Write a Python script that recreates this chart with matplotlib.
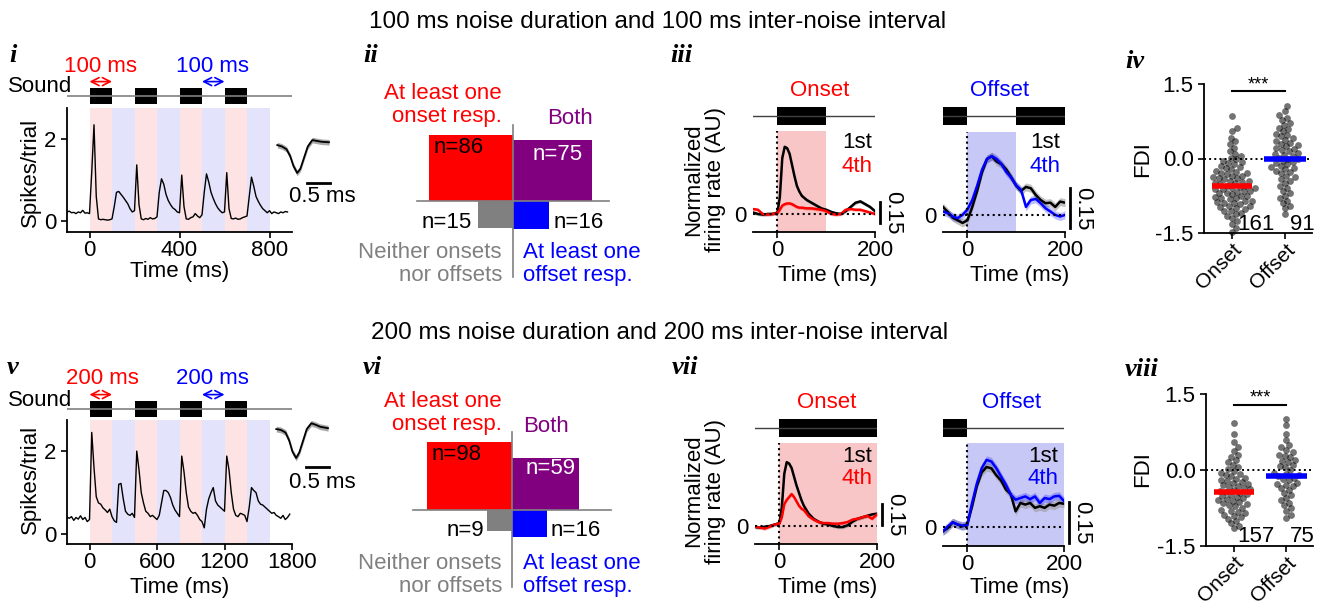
import numpy as np
import matplotlib.pyplot as plt
import matplotlib.transforms as mtransforms

plt.rcParams['font.family'] = ['Liberation Sans', 'DejaVu Sans']
plt.rcParams['font.size'] = 16
plt.rcParams['axes.unicode_minus'] = False
plt.rcParams['axes.linewidth'] = 1.3

RED = '#ff0000'
BLUE = '#0000ff'
PURPLE = '#800080'
GRAY = '#808080'
PINK_L = '#fde3e3'
LAV_L = '#e3e3fb'
PINK = '#f8c6c6'
LAV = '#c8c8f6'

# ---------------- data ----------------
# i : PSTH, 100 ms noise / 100 ms gap (10 ms bins)
t_i = np.arange(-100, 881, 10)
rate_i = [0.22, 0.24, 0.20, 0.21, 0.18, 0.22, 0.20, 0.26, 0.19, 0.20,
          0.18, 1.20, 2.35, 0.60, 0.05, 0.03, 0.04, 0.03, 0.02, 0.03,
          0.05, 0.35, 0.70, 0.72, 0.65, 0.58, 0.50, 0.42, 0.30, 0.22,
          0.25, 1.37, 0.40, 0.05, 0.03, 0.06, 0.04, 0.08, 0.05, 0.06,
          0.10, 0.70, 1.03, 0.90, 0.65, 0.50, 0.40, 0.32, 0.28, 0.22,
          0.20, 1.12, 0.35, 0.05, 0.04, 0.08, 0.10, 0.18, 0.12, 0.08,
          0.15, 0.70, 1.15, 0.95, 0.70, 0.55, 0.42, 0.32, 0.25, 0.20,
          0.22, 1.18, 0.30, 0.06, 0.05, 0.07, 0.04, 0.05, 0.08, 0.10,
          0.12, 0.60, 1.07, 0.85, 0.60, 0.48, 0.38, 0.30, 0.25, 0.20,
          0.25, 0.18, 0.22, 0.20, 0.18, 0.22, 0.20, 0.23, 0.22]
# v : PSTH, 200 ms noise / 200 ms gap (20 ms bins)
t_v = np.arange(-200, 1781, 20)
rate_v = [0.41, 0.38, 0.42, 0.33, 0.40, 0.36, 0.44, 0.35, 0.40, 0.30,
          0.35, 2.45, 1.60, 0.90, 0.75, 0.72, 0.63, 0.58, 0.52, 0.60,
          0.42, 0.32, 0.28, 1.20, 1.22, 0.85, 0.55, 0.48, 0.45, 0.50,
          0.40, 2.00, 1.55, 1.00, 0.75, 0.55, 0.50, 0.42, 0.45, 0.40,
          0.35, 0.45, 0.75, 1.05, 1.05, 1.00, 0.88, 0.70, 0.58, 0.50,
          0.42, 1.88, 1.50, 1.00, 0.65, 0.55, 0.50, 0.52, 0.45, 0.35,
          0.30, 0.15, 0.60, 0.85, 1.00, 1.12, 0.80, 0.70, 0.65, 0.60,
          0.55, 1.88, 1.55, 1.00, 0.60, 0.45, 0.42, 0.50, 0.48, 0.45,
          0.30, 0.65, 1.12, 1.05, 1.00, 0.80, 0.72, 0.70, 0.65, 0.60,
          0.55, 0.50, 0.52, 0.45, 0.42, 0.38, 0.45, 0.35, 0.40, 0.48]
# spike waveforms (ms, normalized amplitude)
wave_t = [0, 0.1, 0.2, 0.28, 0.35, 0.43, 0.5, 0.58, 0.66, 0.76, 0.85, 0.95, 1.12]
wave_i = [0.0, -0.05, -0.15, -0.4, -0.75, -1.0, -0.85, -0.45, -0.05, 0.18, 0.15, 0.12, 0.10]
wave_v = [0.0, -0.03, -0.12, -0.4, -0.78, -1.0, -0.8, -0.4, 0.0, 0.2, 0.15, 0.08, 0.03]

# ii / vi : [onset only, both, neither, offset only]
counts_ii = [86, 75, 15, 16]
counts_vi = [98, 59, 9, 16]

# iii / vii : normalized firing rate, 1st vs 4th noise
t_on = [-50, -40, -30, -20, -10, 0, 5, 10, 15, 20, 25, 30, 35, 40, 45, 50,
        60, 70, 80, 90, 100, 110, 120, 130, 140, 150, 160, 170, 180, 190, 200]
t_off = np.arange(-50, 201, 10)
on1_iii = [0.01, 0.0, -0.005, 0.0, 0.0, 0.01, 0.12, 0.40, 0.48, 0.47, 0.43, 0.35, 0.27, 0.20,
           0.16, 0.13, 0.10, 0.08, 0.06, 0.04, 0.03, 0.015, 0.005, 0.0, 0.02, 0.05, 0.08,
           0.09, 0.07, 0.05, 0.02]
on4_iii = [0.035, 0.03, 0.0, -0.005, 0.0, 0.005, 0.03, 0.06, 0.07, 0.075, 0.075, 0.07, 0.06,
           0.05, 0.045, 0.045, 0.04, 0.04, 0.035, 0.03, 0.02, 0.0, -0.005, 0.0, 0.03, 0.035,
           0.03, 0.03, 0.02, 0.01, 0.0]
off1_iii = [0.03, 0.01, -0.01, -0.02, -0.03, -0.02, 0.03, 0.09, 0.16, 0.21, 0.22, 0.20, 0.19,
            0.17, 0.14, 0.11, 0.09, 0.105, 0.10, 0.075, 0.056, 0.044, 0.046, 0.03, 0.05, 0.046]
off4_iii = [0.013, 0.006, -0.006, -0.012, 0.0, 0.02, 0.056, 0.11, 0.17, 0.21, 0.22, 0.21, 0.19,
            0.16, 0.14, 0.11, 0.094, 0.03, 0.056, 0.06, 0.044, 0.025, 0.013, 0.0, -0.006, 0.0]
on1_vii = [-0.007, -0.01, -0.005, 0.0, 0.01, 0.02, 0.13, 0.36, 0.44, 0.43, 0.40, 0.34, 0.28,
           0.23, 0.18, 0.14, 0.085, 0.05, 0.03, 0.016, 0.01, 0.0, -0.007, -0.007, 0.005, 0.03,
           0.05, 0.06, 0.07, 0.08, 0.085]
on4_vii = [-0.005, -0.01, -0.018, -0.005, 0.01, 0.016, 0.06, 0.15, 0.18, 0.20, 0.22, 0.20, 0.17,
           0.14, 0.12, 0.11, 0.067, 0.044, 0.028, 0.02, 0.02, 0.016, 0.016, 0.02, 0.028, 0.044,
           0.05, 0.06, 0.07, 0.05, 0.08]
off1_vii = [-0.016, -0.004, 0.017, 0.009, 0.002, 0.01, 0.075, 0.15, 0.20, 0.22, 0.215, 0.19, 0.17,
            0.137, 0.12, 0.057, 0.088, 0.082, 0.088, 0.07, 0.076, 0.07, 0.082, 0.078, 0.088, 0.085]
off4_vii = [-0.016, 0.002, 0.017, 0.009, 0.005, 0.005, 0.088, 0.16, 0.216, 0.246, 0.24, 0.216,
            0.185, 0.155, 0.118, 0.10, 0.106, 0.112, 0.102, 0.112, 0.088, 0.106, 0.102, 0.112,
            0.114, 0.095]

# iv / viii : FDI per unit
fdi_on_iv = [0.85, 0.62, 0.55, 0.42, 0.35, 0.3, 0.22, 0.15, 0.1, 0.05, 0.02, -0.02, -0.05, -0.08,
             -0.1, -0.12, -0.15, -0.18, -0.2, -0.22, -0.25, -0.27, -0.3, -0.3, -0.32, -0.35,
             -0.35, -0.38, -0.4, -0.4, -0.42, -0.45, -0.45, -0.47, -0.5, -0.5, -0.52, -0.55,
             -0.55, -0.57, -0.6, -0.6, -0.62, -0.62, -0.65, -0.65, -0.67, -0.7, -0.7, -0.72,
             -0.75, -0.75, -0.78, -0.8, -0.8, -0.82, -0.85, -0.85, -0.88, -0.9, -0.9, -0.92,
             -0.95, -0.95, -0.98, -1.0, -1.02, -1.05, -1.05, -1.1, -1.12, -1.15, -1.2, -1.25,
             -1.32, -1.4, -1.48]
fdi_off_iv = [1.05, 0.95, 0.88, 0.82, 0.78, 0.72, 0.68, 0.62, 0.6, 0.55, 0.5, 0.48, 0.45, 0.42,
              0.38, 0.35, 0.32, 0.3, 0.28, 0.25, 0.22, 0.2, 0.18, 0.15, 0.12, 0.1, 0.08, 0.05,
              0.02, 0.0, -0.02, -0.05, -0.08, -0.1, -0.12, -0.15, -0.18, -0.2, -0.22, -0.25,
              -0.28, -0.3, -0.35, -0.38, -0.42, -0.45, -0.5, -0.55, -0.6, -0.65, -0.7, -0.75,
              -0.8, -0.85, -0.9, -0.95, -1.0, -1.12]
fdi_on_viii = [0.92, 0.72, 0.55, 0.45, 0.38, 0.3, 0.25, 0.2, 0.15, 0.1, 0.05, 0.02, -0.02, -0.05,
               -0.08, -0.1, -0.12, -0.15, -0.17, -0.2, -0.22, -0.24, -0.26, -0.28, -0.3, -0.32,
               -0.34, -0.36, -0.38, -0.4, -0.42, -0.44, -0.45, -0.47, -0.5, -0.52, -0.54, -0.56,
               -0.58, -0.6, -0.62, -0.64, -0.66, -0.68, -0.7, -0.72, -0.75, -0.78, -0.8, -0.82,
               -0.85, -0.88, -0.9, -0.93, -0.96, -1.0, -1.05, -1.1, -1.15]
fdi_off_viii = [1.0, 0.88, 0.72, 0.6, 0.5, 0.45, 0.4, 0.35, 0.3, 0.28, 0.25, 0.2, 0.18, 0.15, 0.1,
                0.08, 0.05, 0.0, -0.05, -0.08, -0.1, -0.12, -0.15, -0.18, -0.2, -0.25, -0.28,
                -0.3, -0.32, -0.35, -0.4, -0.45, -0.5, -0.55, -0.6, -0.65, -0.7, -0.75, -0.8,
                -0.88, -0.95]
med_iv = [-0.55, 0.0]
med_viii = [-0.44, -0.12]
n_iv = [161, 91]
n_viii = [157, 75]

# ---------------- figure ----------------
W, H = 1322, 605
fig = plt.figure(figsize=(W / 100, H / 100), dpi=100)


def add_ax(x0, y0, x1, y1):
    # pixel box (top-left origin) -> figure axes
    return fig.add_axes([x0 / W, 1 - y1 / H, (x1 - x0) / W, (y1 - y0) / H])


def ftext(x, y, s, **kw):
    kw.setdefault('ha', 'center')
    kw.setdefault('va', 'center')
    return fig.text(x / W, 1 - y / H, s, **kw)


def plabel(x, y, s):
    ftext(x, y, s, family=['Liberation Serif', 'DejaVu Serif'], style='italic',
          weight='bold', fontsize=19)


def train_panel(box, snd_box, t, rate, dur, xlim, ylim, xticks):
    ax = add_ax(*box)
    for k in range(4):
        ax.axvspan(2 * k * dur, (2 * k + 1) * dur, color=PINK_L, lw=0)
        ax.axvspan((2 * k + 1) * dur, (2 * k + 2) * dur, color=LAV_L, lw=0)
    ax.plot(t, rate, color='k', lw=1.0)
    ax.set_xlim(xlim)
    ax.set_ylim(ylim)
    ax.set_xticks(xticks)
    ax.set_yticks([0, 2])
    for s in ['top', 'right']:
        ax.spines[s].set_visible(False)
    ax.tick_params(length=4, width=1.2)
    ax.tick_params(axis='x', pad=1.5)
    sax = add_ax(*snd_box)
    sax.plot(xlim, [0, 0], color=GRAY, lw=1.2)
    for k in range(4):
        sax.fill_between([2 * k * dur, (2 * k + 1) * dur], -1, 1, color='k', lw=0)
    sax.set_xlim(xlim)
    sax.set_ylim(-1.5, 1.5)
    sax.axis('off')
    for a, col in [(0, RED), (5 * dur, BLUE)]:
        sax.annotate('', xy=(a + dur, 1.1), xytext=(a, 1.1), xycoords=('data', 'axes fraction'),
                     arrowprops=dict(arrowstyle='<->,head_length=0.35,head_width=0.18',
                                     color=col, lw=1.2, shrinkA=0, shrinkB=0),
                     annotation_clip=False)
    return ax


def wave_panel(box, w, ylim):
    ax = add_ax(*box)
    w = np.array(w)
    ax.fill_between(wave_t, w - 0.1, w + 0.1, color='#a8a8a8', lw=0)
    ax.plot(wave_t, w, color='k', lw=1.3)
    ax.plot([0.65, 1.15], [ylim[0] + 0.25, ylim[0] + 0.25], color='k', lw=2)
    ax.set_xlim(-0.05, 1.25)
    ax.set_ylim(ylim)
    ax.axis('off')


def venn_panel(cx, cy, counts, widths, per_unit, vline, hline):
    ax = add_ax(cx - 120, cy - 100, cx + 120, cy + 100)
    h = [c * per_unit / w for c, w in zip(counts, widths)]
    ax.bar(0, h[0], width=-widths[0], align='edge', color=RED, lw=0)
    ax.bar(0, h[1], width=widths[1], align='edge', color=PURPLE, lw=0)
    ax.bar(0, -h[2], width=-widths[2], align='edge', color=GRAY, lw=0)
    ax.bar(0, -h[3], width=widths[3], align='edge', color=BLUE, lw=0)
    ax.plot([0, 0], vline, color=GRAY, lw=1.2)
    ax.plot(hline, [0, 0], color=GRAY, lw=1.2)
    ax.set_xlim(-120, 120)
    ax.set_ylim(-100, 100)
    ax.axis('off')


def resp_panel(box, snd_box, t, first, fourth, col, shade, span, bursts, ylim, bar_lo, sem):
    ax = add_ax(*box)
    ax.axvspan(span[0], span[1], color=shade, lw=0)
    first = np.array(first)
    fourth = np.array(fourth)
    ax.fill_between(t, first - sem, first + sem, color='#9a9a9a', alpha=0.6, lw=0)
    ax.fill_between(t, fourth - sem, fourth + sem, color=col, alpha=0.25, lw=0)
    ax.plot(t, first, color='k', lw=1.8)
    ax.plot(t, fourth, color=col, lw=1.8)
    ax.axhline(0, ls=':', color='k', lw=1.5)
    ax.axvline(0, ls=':', color='k', lw=1.5)
    ax.set_xlim(-50, 200)
    ax.set_ylim(ylim)
    for s in ['top', 'right', 'left']:
        ax.spines[s].set_visible(False)
    ax.set_xticks([0, 200])
    ax.set_yticks([0])
    ax.tick_params(axis='x', length=4, width=1.2, pad=2)
    ax.tick_params(axis='y', length=0, pad=5)
    tr = mtransforms.blended_transform_factory(ax.transAxes, ax.transData)
    bx = 1 + 5 / (box[2] - box[0])
    ax.plot([bx, bx], [bar_lo, bar_lo + 0.15], color='k', lw=2, transform=tr, clip_on=False)
    ax.text(bx + 0.02, bar_lo + 0.075, '0.15', rotation=-90, ha='left', va='center',
            transform=tr)
    sax = add_ax(*snd_box)
    sax.plot([-50, 200], [0, 0], color='#404040', lw=1)
    for b0, b1 in bursts:
        sax.fill_between([b0, b1], -1.1, 1.1, color='k', lw=0)
    sax.set_xlim(-50, 200)
    sax.set_ylim(-1.25, 1.25)
    sax.axis('off')


def swarm_x(vals, center, ppx, ppy, d=5.5):
    vals = np.asarray(vals, float)
    xs = np.full(len(vals), float(center))
    placed = []
    for i in np.argsort(vals):
        y = vals[i] * ppy
        off = 0.0
        for k in range(400):
            off = (k + 1) // 2 * 0.5 * (1 if k % 2 else -1)
            if all((off - a) ** 2 + (y - b) ** 2 >= d * d for a, b in placed):
                break
        placed.append((off, y))
        xs[i] = center + off / ppx
    return xs


def fdi_panel(box, on_vals, off_vals, med, n, sig_y, n_x, n_y):
    ax = add_ax(*box)
    ppx = (box[2] - box[0]) / (2.51 - 0.47)
    ppy = (box[3] - box[1]) / 3.0
    ax.axhline(0, ls=':', color='k', lw=1.4, zorder=1)
    for pos, vals in [(1, on_vals), (2, off_vals)]:
        ax.scatter(swarm_x(vals, pos, ppx, ppy), vals, s=24, color='k', alpha=0.55,
                   lw=0, clip_on=False, zorder=2)
    ax.plot([0.62, 1.38], [med[0]] * 2, color=RED, lw=4, solid_capstyle='butt', zorder=3)
    ax.plot([1.61, 2.39], [med[1]] * 2, color=BLUE, lw=4, solid_capstyle='butt', zorder=3)
    ax.plot([1, 2], [sig_y] * 2, color='k', lw=1.5, clip_on=False)
    ax.text(1.5, sig_y + 0.13, '***', ha='center', va='center', fontsize=13)
    ax.text(n_x[0], n_y, str(n[0]), ha='center', va='center')
    ax.text(n_x[1], n_y, str(n[1]), ha='center', va='center')
    ax.set_xlim(0.47, 2.51)
    ax.set_ylim(-1.5, 1.5)
    ax.set_yticks([-1.5, 0, 1.5], ['-1.5', '0.0', '1.5'])
    ax.set_xticks([1, 2], ['Onset', 'Offset'], rotation=45, ha='right', rotation_mode='anchor',
                  fontsize=15)
    for s in ['top', 'right']:
        ax.spines[s].set_visible(False)
    ax.tick_params(length=4, width=1.2)
    ax.tick_params(axis='x', pad=1)


# ---- titles ----
ftext(658, 22, '100 ms noise duration and 100 ms inter-noise interval', fontsize=17.5)
ftext(660, 333, '200 ms noise duration and 200 ms inter-noise interval', fontsize=17.5)

# ---- i / v ----
train_panel((67, 108, 292, 232), (67, 84, 292, 108), t_i, rate_i, 100, (-100, 900),
            (-0.27, 2.76), [0, 400, 800])
train_panel((67, 420, 292, 544), (67, 397, 292, 421), t_v, rate_v, 200, (-200, 1800),
            (-0.24, 2.75), [0, 600, 1200, 1800])
wave_panel((275, 130, 335, 190), wave_i, (-1.61, 0.54))
wave_panel((274, 414, 334, 474), wave_v, (-1.55, 0.52))
plabel(13, 55, 'i')
plabel(13, 367, 'v')
ftext(40, 87, 'Sound')
ftext(101, 67, '100 ms', color=RED)
ftext(212, 67, '100 ms', color=BLUE)
ftext(30, 172, 'Spikes/trial', rotation=90)
ftext(180, 271, 'Time (ms)')
ftext(322, 197, '0.5 ms')
ftext(40, 400, 'Sound')
ftext(102, 378, '200 ms', color=RED)
ftext(212, 378, '200 ms', color=BLUE)
ftext(30, 479, 'Spikes/trial', rotation=90)
ftext(180, 587, 'Time (ms)')
ftext(322, 483, '0.5 ms')

# ---- ii / vi ----
venn_panel(513, 201, counts_ii, [84, 79, 35, 36], 64, [-76, 76], [-96, 96])
venn_panel(512, 510, counts_vi, [85, 67, 25, 35], 59, [-77, 78], [-99, 99])
plabel(371, 55, 'ii')
plabel(372, 367, 'vi')
ftext(502, 105, 'At least one\nonset resp.', ha='right', color=RED, linespacing=1.1)
ftext(570, 118, 'Both', color=PURPLE)
ftext(434, 148, 'n=86', ha='left')
ftext(533, 155, 'n=75', ha='left', color='white')
ftext(472, 222, 'n=15', ha='right')
ftext(554, 222, 'n=16', ha='left')
ftext(502, 264, 'Neither onsets\nnor offsets', ha='right', color=GRAY, linespacing=1.1)
ftext(523, 264, 'At least one\noffset resp.', ha='left', color=BLUE, linespacing=1.1)
ftext(502, 413, 'At least one\nonset resp.', ha='right', color=RED, linespacing=1.1)
ftext(523, 427, 'Both', ha='left', color=PURPLE)
ftext(432, 455, 'n=98', ha='left')
ftext(526, 469, 'n=59', ha='left', color='white')
ftext(484, 530, 'n=9', ha='right')
ftext(551, 530, 'n=16', ha='left')
ftext(502, 575, 'Neither onsets\nnor offsets', ha='right', color=GRAY, linespacing=1.1)
ftext(523, 575, 'At least one\noffset resp.', ha='left', color=BLUE, linespacing=1.1)

# ---- iii / vii ----
resp_panel((753, 131, 875, 232), (753, 106, 875, 126), t_on, on1_iii, on4_iii, RED, PINK,
           (0, 100), [(0, 100)], (-0.129, 0.593), -0.065, 0.012)
resp_panel((943, 132, 1065, 232), (943, 106, 1065, 126), t_off, off1_iii, off4_iii, BLUE, LAV,
           (0, 100), [(-50, 0), (100, 200)], (-0.064, 0.311), -0.05, 0.015)
resp_panel((755, 443, 877, 544), (755, 418, 877, 438), t_on, on1_vii, on4_vii, RED, PINK,
           (0, 200), [(0, 200)], (-0.124, 0.572), 0.005, 0.012)
resp_panel((943, 443, 1064, 546), (943, 418, 1064, 438), t_off, off1_vii, off4_vii, BLUE, LAV,
           (0, 200), [(-50, 0)], (-0.07, 0.308), -0.06, 0.015)
plabel(681, 55, 'iii')
plabel(685, 368, 'vii')
ftext(705, 180, 'Normalized\nfiring rate (AU)', rotation=90, linespacing=1.05)
ftext(705, 491, 'Normalized\nfiring rate (AU)', rotation=90, linespacing=1.05)
ftext(820, 90, 'Onset', color=RED)
ftext(1000, 90, 'Offset', color=BLUE)
ftext(827, 403, 'Onset', color=RED)
ftext(1012, 403, 'Offset', color=BLUE)
ftext(828, 276, 'Time (ms)')
ftext(1020, 276, 'Time (ms)')
ftext(828, 588, 'Time (ms)')
ftext(1020, 588, 'Time (ms)')
ftext(872, 143, '1st', ha='right')
ftext(872, 167, '4th', ha='right', color=RED)
ftext(1060, 143, '1st', ha='right')
ftext(1060, 167, '4th', ha='right', color=BLUE)
ftext(872, 457, '1st', ha='right')
ftext(872, 478, '4th', ha='right', color=RED)
ftext(1058, 457, '1st', ha='right')
ftext(1058, 478, '4th', ha='right', color=BLUE)

# ---- iv / viii ----
fdi_panel((1204, 84, 1312, 233), fdi_on_iv, fdi_off_iv, med_iv, n_iv, 1.36, (1.45, 2.32), -1.33)
fdi_panel((1206, 394, 1313, 546), fdi_on_viii, fdi_off_viii, med_viii, n_viii, 1.29,
          (1.42, 2.31), -1.31)
plabel(1135, 62, 'iv')
plabel(1142, 370, 'viii')
ftext(1143, 159, 'FDI', rotation=90)
ftext(1143, 469, 'FDI', rotation=90)

fig.savefig('out.png', dpi=100)
